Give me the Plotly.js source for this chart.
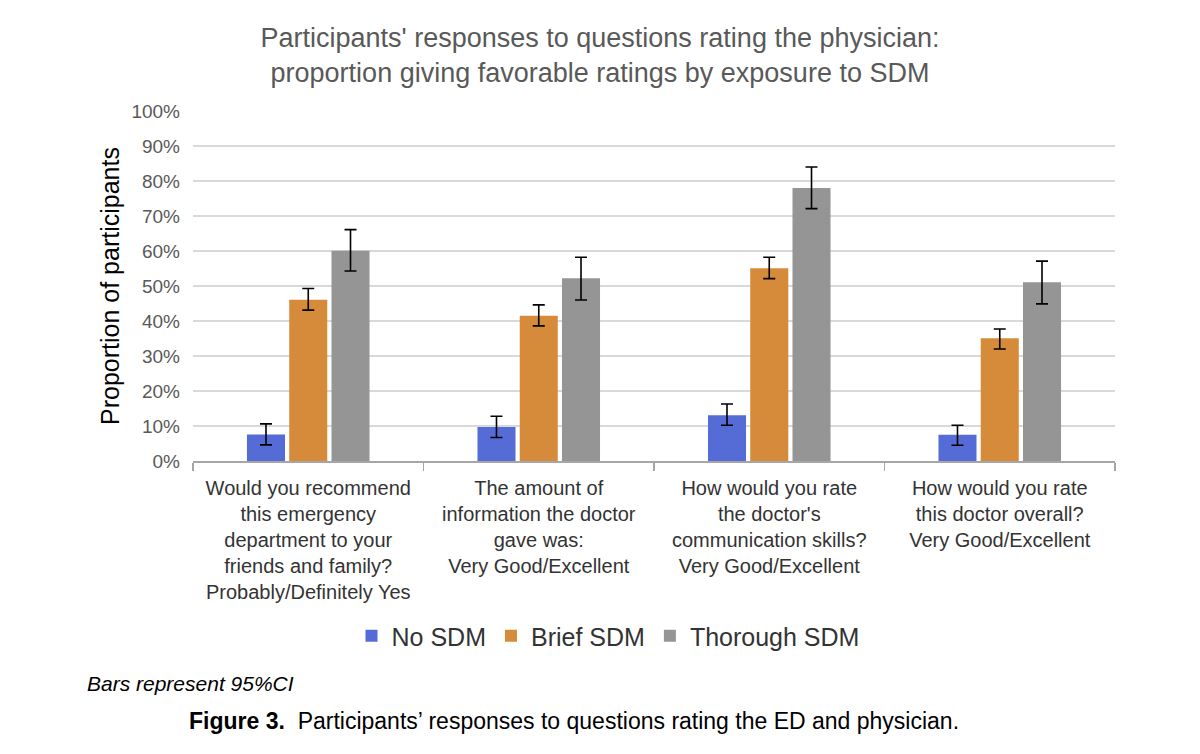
<!DOCTYPE html>
<html>
<head>
<meta charset="utf-8">
<script src="https://cdn.plot.ly/plotly-3.0.1.min.js"></script>
<style>html,body{margin:0;padding:0;background:#fff;}#chart{width:1200px;height:754px;}</style>
</head>
<body>
<div id="chart"></div>
<script>
const categories = [
  "Would you recommend<br>this emergency<br>department to your<br>friends and family?<br>Probably/Definitely Yes",
  "The amount of<br>information the doctor<br>gave was:<br>Very Good/Excellent",
  "How would you rate<br>the doctor's<br>communication skills?<br>Very Good/Excellent",
  "How would you rate<br>this doctor overall?<br>Very Good/Excellent"
];
const seriesNames = ["No SDM", "Brief SDM", "Thorough SDM"];
const noSDM = [7.6, 9.7, 13.1, 7.5];
const noSDMUpper = [10.6, 12.8, 16.3, 10.2];
const noSDMLower = [4.6, 6.7, 10.2, 4.5];
const briefSDM = [46.1, 41.5, 55.1, 35.1];
const briefSDMUpper = [49.3, 44.6, 58.2, 37.7];
const briefSDMLower = [43.1, 38.6, 52.1, 32.0];
const thoroughSDM = [60.1, 52.2, 78.0, 51.1];
const thoroughSDMUpper = [66.1, 58.2, 84.0, 57.1];
const thoroughSDMLower = [54.3, 46.0, 72.1, 44.9];
const yTickVals = [0,10,20,30,40,50,60,70,80,90,100];
const yTickText = ["0%","10%","20%","30%","40%","50%","60%","70%","80%","90%","100%"];

const colors = ["#556cd6", "#d68b3a", "#959595"];
const font = "Liberation Sans, Arial, sans-serif";

function mk(name, vals, up, lo, color) {
  return {
    type: "bar", name: name, x: categories, y: vals,
    marker: {color: color},
    error_y: {
      type: "data", symmetric: false,
      array: vals.map((v, i) => up[i] - v),
      arrayminus: vals.map((v, i) => v - lo[i]),
      color: "#000", thickness: 1.6, width: 6
    },
    hoverinfo: "skip"
  };
}

const data = [
  mk(seriesNames[0], noSDM, noSDMUpper, noSDMLower, colors[0]),
  mk(seriesNames[1], briefSDM, briefSDMUpper, briefSDMLower, colors[1]),
  mk(seriesNames[2], thoroughSDM, thoroughSDMUpper, thoroughSDMLower, colors[2])
];

const layout = {
  width: 1200, height: 754,
  margin: {l: 193, r: 85, t: 111, b: 293},
  paper_bgcolor: "#fff", plot_bgcolor: "#fff",
  font: {family: font, color: "#404040"},
  barmode: "group", bargap: 0.45, bargroupgap: 0.1,
  title: {
    text: "Participants' responses to questions rating the physician:<br>proportion giving favorable ratings by exposure to SDM",
    font: {size: 27, color: "#595959", family: font},
    x: 0.5, xanchor: "center", y: 0.938, yanchor: "top"
  },
  xaxis: {
    type: "category",
    tickfont: {size: 20, color: "#333", family: font},
    showline: true, linecolor: "#a6a6a6", linewidth: 1.5,
    ticks: "outside", tickson: "boundaries", ticklen: 8, tickcolor: "#a6a6a6", tickwidth: 1.5,
    ticklabelstandoff: 8,
    showgrid: false, zeroline: false, automargin: false
  },
  yaxis: {
    range: [0, 100], tickvals: yTickVals, ticktext: yTickText,
    tickfont: {size: 19, color: "#595959", family: font},
    showgrid: true, gridcolor: "#d9d9d9", gridwidth: 1.5,
    zeroline: false, showline: false, ticks: "", ticklabelstandoff: 12,
    title: {text: "Proportion of participants", font: {size: 25, color: "#000", family: font}, standoff: 4},
    automargin: false
  },
  showlegend: true,
  legend: {
    orientation: "h", x: (608 - 193) / 922, xanchor: "center", y: -0.5, yanchor: "middle",
    font: {size: 25, color: "#333", family: font},
    itemwidth: 30, tracegroupgap: 0
  },
  annotations: [
    {
      text: "<i>Bars represent 95%CI</i>", xref: "paper", yref: "paper",
      x: (85 - 193) / 922, y: (461 - 683) / 350, xanchor: "left", yanchor: "middle",
      showarrow: false, font: {size: 21, color: "#000", family: font}
    },
    {
      text: "<b>Figure 3.</b>  Participants’ responses to questions rating the ED and physician.",
      xref: "paper", yref: "paper",
      x: (574 - 193) / 922, y: (461 - 721) / 350, xanchor: "center", yanchor: "middle",
      showarrow: false, font: {size: 23, color: "#000", family: font}
    }
  ]
};

Plotly.newPlot("chart", data, layout, {staticPlot: true, displayModeBar: false});
</script>
</body>
</html>
